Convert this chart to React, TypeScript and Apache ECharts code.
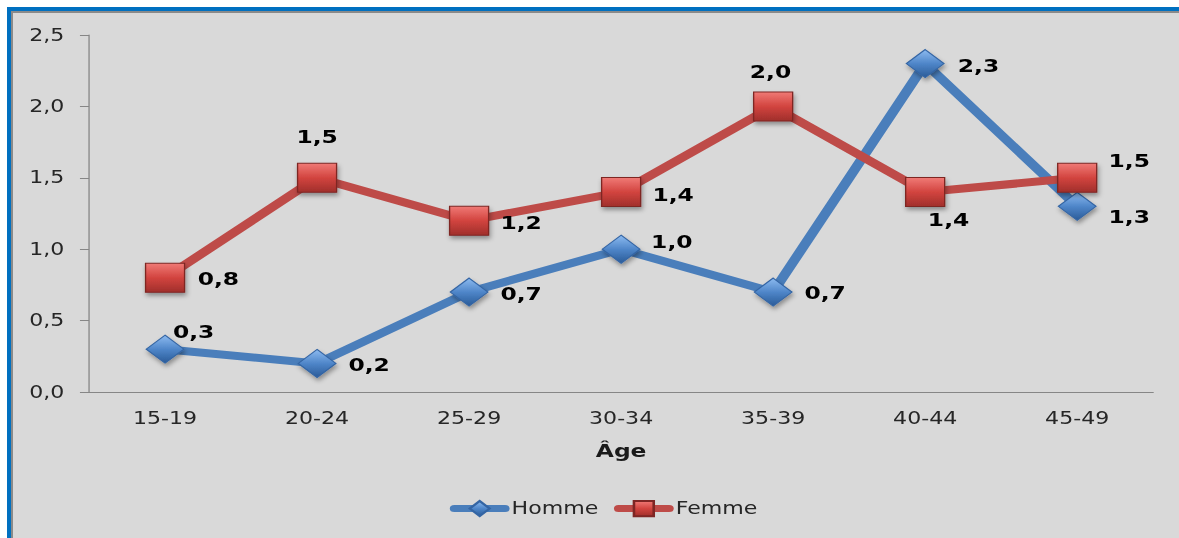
import React, { useEffect, useRef } from "react";
import * as echarts from "echarts";

// ---- data ----
const categories = ["15-19", "20-24", "25-29", "30-34", "35-39", "40-44", "45-49"];
const hommeValues = [0.3, 0.2, 0.7, 1.0, 0.7, 2.3, 1.3];
const femmeValues = [0.8, 1.5, 1.2, 1.4, 2.0, 1.4, 1.5];
const yMin = 0;
const yMax = 2.5;
const yStep = 0.5;
const xAxisName = "Âge";
const seriesNames = ["Homme", "Femme"];

// ---- label placement (local px offsets from marker centre) ----
const hommeLabelOffsets = [[22, -17], [40, 2], [40, 2], [39, -7], [40, 1], [41, 2], [40, 11]];
const femmeLabelOffsets = [[41, 1], [0, -41], [40, 2], [40, 3], [-2, -34], [18, 28], [40, -17]];

// ---- geometry ----
const SCREEN_W = 1179;
const SCREEN_H = 538;
const SX = 1.3;
const LOCAL_W = SCREEN_W / SX;
const FONT = "'DejaVu Sans', Verdana, sans-serif";

const fmt = (v: number) => v.toFixed(1).replace(".", ",");

function App() {
  const ref = useRef<HTMLDivElement | null>(null);

  useEffect(() => {
    if (!ref.current) return;
    const chart = echarts.init(ref.current, undefined, { renderer: "svg" });

    const blueGrad = new echarts.graphic.LinearGradient(0, 0, 0, 1, [
      { offset: 0, color: "#8dbbf0" },
      { offset: 0.5, color: "#4f86c9" },
      { offset: 1, color: "#2a5b98" },
    ]);
    const redGrad = new echarts.graphic.LinearGradient(0, 0, 0, 1, [
      { offset: 0, color: "#f07a76" },
      { offset: 0.5, color: "#d2443f" },
      { offset: 1, color: "#a02f2b" },
    ]);

    const mkData = (vals: number[], offs: number[][]) =>
      vals.map((v, i) => ({ value: v, label: { offset: offs[i] } }));

    const labelBase = {
      show: true,
      position: "inside",
      color: "#000000",
      fontFamily: FONT,
      fontWeight: "bold",
      fontSize: 18,
      textBorderWidth: 0,
      formatter: (p: any) => fmt(p.value),
    };

    chart.setOption({
      animation: false,
      backgroundColor: "transparent",
      textStyle: { fontFamily: FONT },
      grid: { left: 68.5, right: LOCAL_W - 887, top: 35, bottom: SCREEN_H - 392, containLabel: false },
      legend: {
        left: 341,
        top: 495,
        padding: 5,
        itemWidth: 39,
        itemHeight: 19,
        itemGap: 12,
        lineStyle: { width: 7, cap: "round" },
        textStyle: { fontFamily: FONT, fontSize: 17, color: "#262626" },
        data: seriesNames,
      },
      xAxis: {
        type: "category",
        data: categories,
        boundaryGap: true,
        name: xAxisName,
        nameLocation: "middle",
        nameGap: 50,
        nameTextStyle: { fontFamily: FONT, fontSize: 18, fontWeight: "bold", color: "#1a1a1a" },
        axisLine: { show: true, lineStyle: { color: "#868686", width: 1 } },
        axisTick: { show: false },
        axisLabel: { margin: 18, fontFamily: FONT, fontSize: 17, color: "#262626" },
        splitLine: { show: false },
      },
      yAxis: {
        type: "value",
        min: yMin,
        max: yMax,
        interval: yStep,
        axisLine: { show: true, lineStyle: { color: "#868686", width: 1 } },
        axisTick: { show: true, length: 7, inside: false, lineStyle: { color: "#868686" } },
        axisLabel: { margin: 19, fontFamily: FONT, fontSize: 17, color: "#262626", formatter: (v: number) => fmt(v) },
        splitLine: { show: false },
      },
      series: [
        {
          name: seriesNames[0],
          type: "line",
          data: mkData(hommeValues, hommeLabelOffsets),
          symbol: "diamond",
          symbolSize: [29, 28],
          lineStyle: { color: "#4a7ebb", width: 8, join: "round", cap: "round" },
          itemStyle: {
            color: blueGrad,
            borderColor: "#3465a4",
            borderWidth: 1,
            shadowColor: "rgba(0,0,0,0.35)",
            shadowBlur: 4,
            shadowOffsetX: 1,
            shadowOffsetY: 3,
          },
          label: labelBase,
          z: 2,
        },
        {
          name: seriesNames[1],
          type: "line",
          data: mkData(femmeValues, femmeLabelOffsets),
          symbol: "rect",
          symbolSize: [30, 29],
          lineStyle: { color: "#be4b48", width: 8, join: "round", cap: "round" },
          itemStyle: {
            color: redGrad,
            borderColor: "#7e2624",
            borderWidth: 1,
            shadowColor: "rgba(0,0,0,0.35)",
            shadowBlur: 4,
            shadowOffsetX: 1,
            shadowOffsetY: 3,
          },
          label: labelBase,
          z: 3,
        },
      ],
    });

    return () => chart.dispose();
  }, []);

  return (
    <div
      style={{
        position: "absolute",
        left: 0,
        top: 0,
        width: SCREEN_W,
        height: SCREEN_H,
        overflow: "hidden",
        background: "#ffffff",
      }}
    >
      <div
        style={{
          position: "absolute",
          left: 7,
          top: 7,
          width: SCREEN_W,
          height: SCREEN_H,
          boxSizing: "border-box",
          borderLeft: "4px solid #0070c0",
          borderTop: "4px solid #0070c0",
        }}
      >
        <div
          style={{
            position: "absolute",
            left: 0,
            top: 0,
            right: 0,
            bottom: 0,
            boxSizing: "border-box",
            borderLeft: "2px solid #8a8a8a",
            borderTop: "2px solid #8a8a8a",
            background: "#d9d9d9",
          }}
        />
      </div>
      <div
        ref={ref}
        style={{
          position: "absolute",
          left: 0,
          top: 0,
          width: LOCAL_W,
          height: SCREEN_H,
          transform: `scaleX(${SX})`,
          transformOrigin: "0 0",
        }}
      />
    </div>
  );
}

export default App;
